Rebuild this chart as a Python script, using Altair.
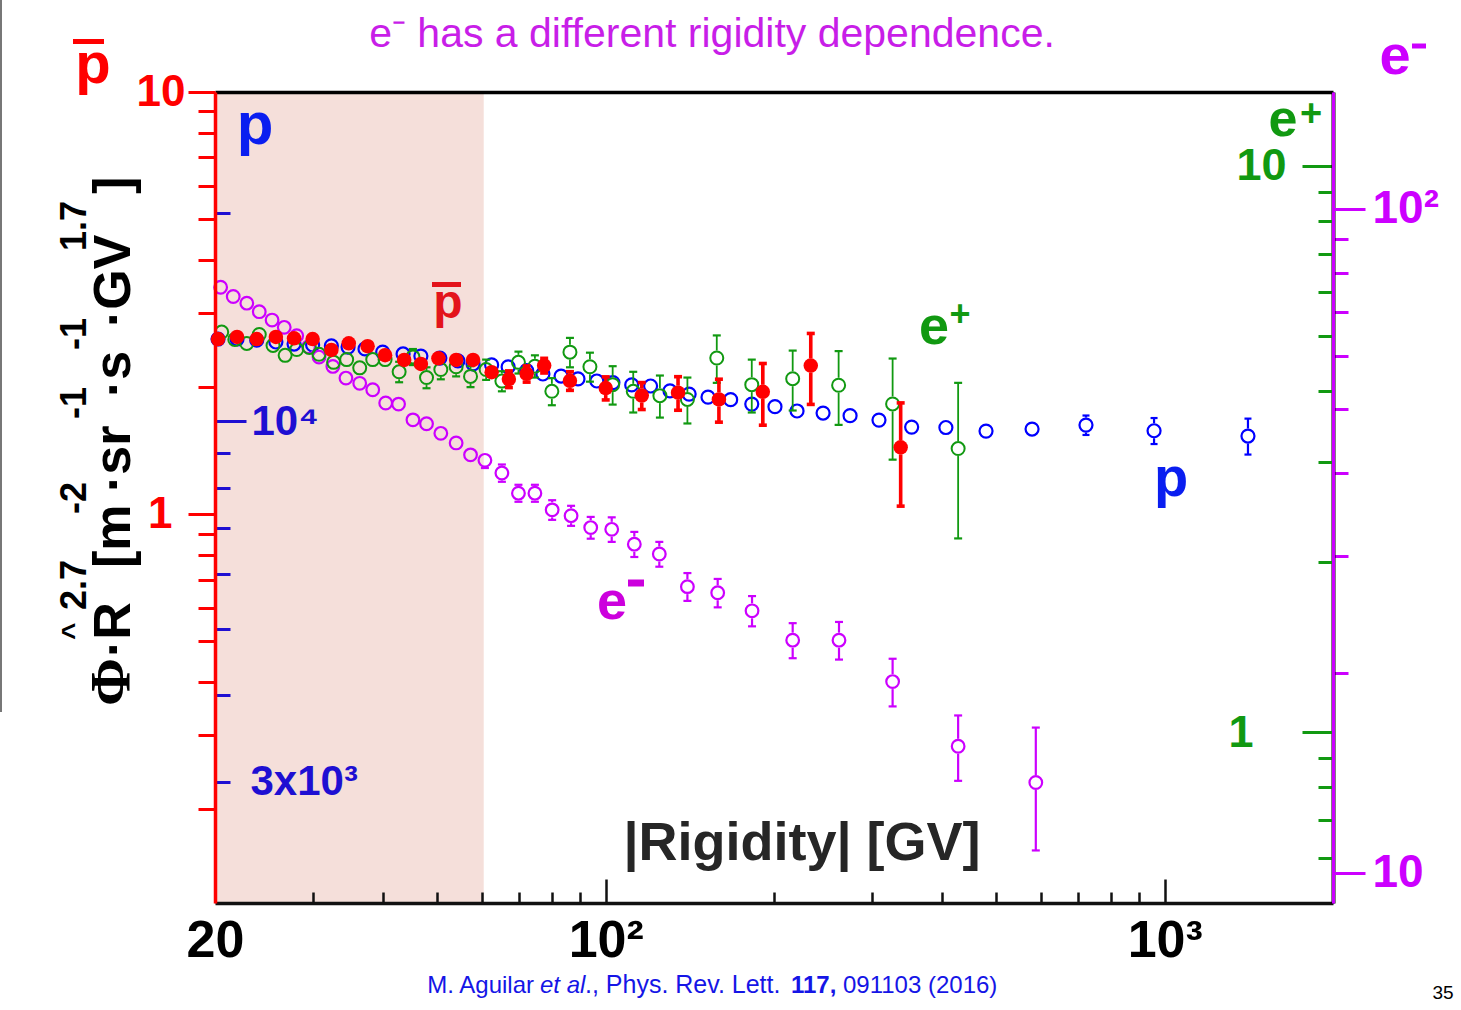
import math
import altair as alt
import pandas as pd

# ------------------------------------------------------------------ data
# protons (blue, flux x R^2.7, m^-2 sr^-1 s^-1 GV^1.7)
P_R = [20.25, 21.9, 23.75, 25.7, 27.7, 29.9, 32.3, 34.6, 37.1, 39.9, 43.4, 46.7,
       50.5, 54.4, 57.9, 62.5, 66.9, 72.2, 77.2, 83.2, 89.2, 96.4, 103, 111.3,
       120.3, 130.3, 141, 152.4, 167.3, 182.5, 200.8, 219.9, 244.8, 273.6, 308.2,
       352.6, 406, 479, 579, 723, 957, 1409]
P_FLUX = [13150, 13150, 13100, 13020, 12930, 12890, 12850, 12800, 12720, 12590,
          12510, 12420, 12340, 12220, 12100, 12060, 11980, 11830, 11700, 11620,
          11510, 11430, 11370, 11280, 11240, 11060, 10940, 10830, 10740, 10580,
          10490, 10340, 10270, 10180, 10030, 9800, 9785, 9670, 9735, 9865, 9680, 9510]
P_ERR = [40] * 30 + [50, 50, 60, 60, 70, 80, 90, 130, 160, 320, 420, 570]

# antiprotons (red)
PBAR_R = [20.25, 21.9, 23.75, 25.7, 27.7, 29.9, 32.3, 34.7, 37.5, 40.3, 43.6, 46.7,
          50.2, 54.0, 57.9, 62.5, 67.1, 72.2, 77.6, 86.3, 100, 116, 134.7, 159.4,
          191, 232.7, 337]
PBAR_FLUX = [2.60, 2.63, 2.60, 2.63, 2.61, 2.60, 2.45, 2.54, 2.50, 2.38, 2.32, 2.27,
             2.34, 2.32, 2.32, 2.17, 2.09, 2.15, 2.25, 2.07, 1.99, 1.91, 1.94, 1.87,
             1.95, 2.25, 1.44]
PBAR_ERR = [0.03, 0.03, 0.03, 0.03, 0.03, 0.03, 0.04, 0.04, 0.04, 0.05, 0.05, 0.05,
            0.05, 0.06, 0.06, 0.07, 0.095, 0.095, 0.09, 0.105, 0.125, 0.14, 0.177,
            0.218, 0.325, 0.43, 0.395]

# positrons (green)
EP_R = [20.56, 21.7, 22.8, 24.0, 25.4, 26.7, 28.0, 29.5, 30.7, 32.6, 34.4, 36.3,
        38.3, 40.3, 42.7, 45.2, 47.8, 50.7, 54.0, 57.3, 61.1, 65.2, 69.8, 74.7,
        80.1, 86.3, 93.7, 102.9, 112, 125, 140, 158, 182.5, 216, 261, 326, 427]
EP_FLUX = [5.09, 4.94, 4.86, 5.04, 4.82, 4.63, 4.74, 4.78, 4.65, 4.50, 4.55, 4.40,
           4.55, 4.55, 4.33, 4.60, 4.23, 4.37, 4.42, 4.25, 4.37, 4.17, 4.50, 4.43,
           4.00, 4.69, 4.42, 4.11, 4.00, 3.93, 3.87, 4.58, 4.11, 4.21, 4.10, 3.80, 3.17]
EP_ERR = [0.10, 0.10, 0.10, 0.10, 0.10, 0.10, 0.10, 0.11, 0.11, 0.12, 0.12, 0.13,
          0.13, 0.13, 0.18, 0.15, 0.18, 0.17, 0.17, 0.18, 0.18, 0.17, 0.20, 0.20,
          0.22, 0.28, 0.26, 0.32, 0.33, 0.335, 0.36, 0.44, 0.44, 0.51, 0.61, 0.77, 0.97]

# electrons (magenta)
EM_R = [20.47, 21.56, 22.8, 24.0, 25.3, 26.6, 28.0, 29.4, 30.7, 32.5, 34.3, 36.3,
        38.3, 40.4, 42.6, 45.2, 47.8, 50.7, 54.0, 57.3, 60.8, 65.2, 69.8, 74.7,
        80.2, 86.7, 94.0, 102.5, 112.5, 124.7, 140, 158.6, 182.7, 216, 261.4, 326,
        427, 588]
EM_FLUX = [76.2, 73.8, 72.1, 70.0, 68.0, 66.3, 64.4, 62.0, 59.8, 57.9, 55.6, 54.6,
           53.4, 51.0, 50.8, 48.1, 47.45, 45.9, 44.4, 42.6, 41.8, 40.0, 37.3, 37.3,
           35.2, 34.5, 33.1, 32.9, 31.25, 30.2, 26.97, 26.4, 24.8, 22.4, 22.4, 19.4,
           15.5, 13.67]
EM_ERR = [0.6, 0.6, 0.6, 0.6, 0.6, 0.6, 0.6, 0.6, 0.6, 0.6, 0.8, 0.8, 0.8, 0.9,
          0.9, 0.9, 0.9, 0.9, 0.9, 0.9, 1.1, 1.2, 1.1, 1.1, 1.2, 1.2, 1.25, 1.4,
          1.36, 1.3, 1.3, 1.3, 1.3, 1.36, 1.46, 1.6, 1.75, 2.87]

SHADE_RANGE = [20, 60.5]

X_DOMAIN = [20, 2000]
PBAR_DOMAIN = [0.12, 10]
P_DOMAIN = [2000, 30000]
EP_DOMAIN = [0.5, 13.5]
EM_DOMAIN = [9, 150]

X_LABEL_VALUES = [20, 100, 1000]
X_MAJOR_TICKS = [100, 1000]
X_MINOR_TICKS = [30, 40, 50, 60, 70, 80, 90, 200, 300, 400, 500, 600, 700, 800, 900]
PBAR_MAJOR = [1, 10]
PBAR_MINOR = [0.2, 0.3, 0.4, 0.5, 0.6, 0.7, 0.8, 0.9, 1, 2, 3, 4, 5, 6, 7, 8, 9]
P_MAJOR = [10000]
P_MINOR = [3000, 4000, 5000, 6000, 7000, 8000, 9000, 20000]
EP_MAJOR = [1, 10]
EP_MINOR = [0.6, 0.7, 0.8, 0.9, 1, 2, 3, 4, 5, 6, 7, 8, 9]
EM_MAJOR = [10, 100]
EM_MINOR = [20, 30, 40, 50, 60, 70, 80, 90]

# ------------------------------------------------------------------ style
W, H = 1118, 811
PAD_L, PAD_T, PAD_R, PAD_B = 215, 92, 128, 107
FONT = "Liberation Sans"

RED = "#ff0000"
BLUE = "#0000ff"
BLUE_AX = "#1e0fd2"
BLUE_TXT = "#0a1ef0"
GREEN = "#119911"
MAGENTA = "#cc00ff"
CITE = "#1515e6"

xs = alt.Scale(type="log", domain=X_DOMAIN, nice=False)
XENC = alt.X("R:Q", scale=xs, axis=None)


def yaxis(orient, values, tick, color, label_expr="''", pad=4, size=44,
          offset=0, domain=False, domain_color="black", domain_w=3, zindex=1):
    kw = dict(orient=orient, values=values, tickSize=tick, tickColor=color,
              tickWidth=3, labelExpr=label_expr, labelColor=color,
              labelFontSize=size, labelFont=FONT, labelFontWeight="bold",
              labelPadding=pad, labelOverlap=False, labelFlush=False,
              grid=False, title=None, domain=domain, zindex=zindex,
              offset=offset)
    if domain:
        kw.update(domainColor=domain_color, domainWidth=domain_w)
    return alt.Axis(**kw)


def ends_df(R, v, err):
    rows = []
    for r_, v_, e_ in zip(R, v, err):
        rows.append({"R": r_, "v": v_, "e": v_ + e_, "dir": "up"})
        rows.append({"R": r_, "v": v_, "e": v_ - e_, "dir": "down"})
    return pd.DataFrame(rows)


def series(R, v, err, domain, color, filled, size, sw, rule_w, cap_w, cap_t,
           radius, major_axis, minor_axis):
    ys = alt.Scale(type="log", domain=domain, nice=False)
    ppd = H / math.log10(domain[1] / domain[0])
    pts_df = pd.DataFrame({"R": R, "v": v})
    ed = ends_df(R, v, err)
    cond = f"abs(log(datum.e/datum.v))/LN10*{ppd:.3f} > {radius}"
    base = alt.Chart(ed).transform_filter(cond)
    up = base.transform_filter("datum.dir == 'up'").mark_rule(
        color=color, strokeWidth=rule_w, y2Offset=-radius).encode(
        x=XENC, y=alt.Y("e:Q", scale=ys, axis=None), y2="v:Q")
    dn = base.transform_filter("datum.dir == 'down'").mark_rule(
        color=color, strokeWidth=rule_w, y2Offset=radius).encode(
        x=XENC, y=alt.Y("e:Q", scale=ys, axis=None), y2="v:Q")
    caps = base.mark_tick(orient="horizontal", color=color, size=cap_w,
                          thickness=cap_t, opacity=1).encode(
        x=XENC, y=alt.Y("e:Q", scale=ys, axis=None))
    if filled:
        pts = alt.Chart(pts_df).mark_circle(color=color, size=size, opacity=1)
    else:
        pts = alt.Chart(pts_df).mark_point(shape="circle", color=color, size=size,
                                           strokeWidth=sw, opacity=1, filled=False)
    pts = pts.encode(x=XENC, y=alt.Y("v:Q", scale=ys, axis=major_axis))
    carrier = alt.Chart(pts_df).mark_point(opacity=0).encode(
        x=XENC, y=alt.Y("v:Q", scale=ys, axis=minor_axis))
    return alt.layer(up, dn, caps, pts, carrier).resolve_axis(y="independent")


def txt(s, x, y, size, color, weight="bold", align="center",
        baseline="alphabetic", angle=0, style="normal", font=FONT):
    kw = dict(align=align, baseline=baseline, fontSize=size, color=color,
              fontWeight=weight, font=font, fontStyle=style)
    if angle:
        kw["angle"] = angle
    return alt.Chart(pd.DataFrame({"t": [s]})).mark_text(**kw).encode(
        text="t:N", x=alt.value(x - PAD_L), y=alt.value(y - PAD_T))


def hbar(x1, x2, y, width, color):
    return alt.Chart(pd.DataFrame({"k": [0]})).mark_rule(
        color=color, strokeWidth=width).encode(
        x=alt.value(x1 - PAD_L), x2=alt.value(x2 - PAD_L), y=alt.value(y - PAD_T))


def vbar(x, y1, y2, width, color):
    return alt.Chart(pd.DataFrame({"k": [0]})).mark_rule(
        color=color, strokeWidth=width).encode(
        x=alt.value(x - PAD_L), y=alt.value(y1 - PAD_T), y2=alt.value(y2 - PAD_T))


# ------------------------------------------------------------------ axes
x_label_axis = alt.Axis(orient="bottom", values=X_LABEL_VALUES,
                        labelExpr="datum.value == 20 ? '20' : (datum.value == 100 ? '10²' : '10³')",
                        ticks=False, domain=False, grid=False, title=None,
                        labelFontSize=52, labelFont=FONT, labelFontWeight="bold",
                        labelColor="black", labelPadding=12, labelFlush=False,
                        labelOverlap=False, zindex=1)
x_minor_axis = alt.Axis(orient="top", offset=-H, values=X_MINOR_TICKS, tickSize=11,
                        tickWidth=2.5, tickColor="#111111", labels=False, grid=False,
                        title=None, domain=True, domainColor="#111111",
                        domainWidth=3.5, zindex=1)
x_major_axis = alt.Axis(orient="top", offset=-H, values=X_MAJOR_TICKS, tickSize=24,
                        tickWidth=2.5, tickColor="#111111", labels=False, grid=False,
                        title=None, domain=False, zindex=1)
x_top_axis = alt.Axis(orient="top", ticks=False, labels=False, grid=False, title=None,
                      domain=True, domainColor="black", domainWidth=3.5, zindex=1)

pbar_major = yaxis("left", PBAR_MAJOR, 27, RED, "datum.value == 10 ? '10' : ''",
                   pad=3, size=44, domain=True, domain_color=RED, domain_w=3.5, zindex=2)
pbar_minor = yaxis("left", PBAR_MINOR, 17, RED, "datum.value == 1 ? '1' : ''",
                   pad=26, size=44)
p_major = yaxis("right", P_MAJOR, 31, BLUE_AX, "'10⁴'", pad=5, size=42, offset=-W)
p_minor = yaxis("right", P_MINOR, 15, BLUE_AX, "datum.value == 3000 ? '3x10³' : ''",
                pad=20, size=42, offset=-W)
ep_major = yaxis("left", EP_MAJOR, 31, GREEN, "datum.value == 10 ? '10' : ''",
                 pad=16, size=45, offset=-W, domain=True, domain_color="black",
                 domain_w=4)
ep_minor = yaxis("left", EP_MINOR, 15, GREEN, "datum.value == 1 ? '1' : ''",
                 pad=65, size=45, offset=-W)
em_major = yaxis("right", EM_MAJOR, 32, MAGENTA,
                 "datum.value == 100 ? '10²' : '10'", pad=7, size=46,
                 domain=True, domain_color=MAGENTA, domain_w=3, zindex=2)
em_minor = yaxis("right", EM_MINOR, 15, MAGENTA, "''", pad=2, size=10)

# ------------------------------------------------------------------ layers
shade = alt.Chart(pd.DataFrame({"a": [SHADE_RANGE[0]], "b": [SHADE_RANGE[1]]})).mark_rect(
    color="#f5dfda", opacity=1).encode(
    x=alt.X("a:Q", scale=xs, axis=x_label_axis), x2="b:Q",
    y=alt.value(0), y2=alt.value(H))

xdf = pd.DataFrame({"R": X_DOMAIN})


def xcarrier(axis):
    return alt.Chart(xdf).mark_point(opacity=0).encode(
        x=alt.X("R:Q", scale=xs, axis=axis))


blue = series(P_R, P_FLUX, P_ERR, P_DOMAIN, BLUE, False, 169, 2.2, 2.2, 7, 2.2, 7.5,
              p_major, p_minor)
mag = series(EM_R, EM_FLUX, EM_ERR, EM_DOMAIN, MAGENTA, False, 160, 2.2, 2.2, 8, 2.2,
             7.5, em_major, em_minor)
green = series(EP_R, EP_FLUX, EP_ERR, EP_DOMAIN, GREEN, False, 169, 2.0, 1.8, 8, 2.2,
               7.5, ep_major, ep_minor)
red = series(PBAR_R, PBAR_FLUX, PBAR_ERR, PBAR_DOMAIN, RED, True, 210, 0, 3.6, 8, 3.6,
             7, pbar_major, pbar_minor)

ann = [
    txt("e⁻ has a different rigidity dependence.", 712, 47, 41, "#c81ee8", weight="normal"),
    # pbar top-left
    txt("p", 93, 83, 58, RED),
    hbar(73, 104, 41.5, 5, RED),
    # e- top-right
    txt("e", 1395, 74, 56, MAGENTA),
    hbar(1412, 1426, 46, 5, MAGENTA),
    # e+ top-right
    txt("e", 1283, 136, 52, GREEN),
    txt("+", 1311, 126, 38, GREEN),
    # blue p top-left
    txt("p", 255, 144, 60, BLUE_TXT),
    # inner pbar
    txt("p", 448, 318, 48, "#e3141b"),
    hbar(432, 461, 284.5, 5, "#e3141b"),
    # inner e+
    txt("e", 934, 344, 54, GREEN),
    txt("+", 960, 326, 36, GREEN),
    # inner e-
    txt("e", 612, 619, 54, "#cc00dd"),
    hbar(628, 644, 583, 7, "#cc00dd"),
    # blue p right
    txt("p", 1171, 496, 56, BLUE_TXT),
    # x title
    txt("|Rigidity| [GV]", 802, 860, 54, "#262626"),
    # citation
    txt("M. Aguilar", 534, 993, 24, CITE, weight="normal", align="right"),
    txt("et al", 540, 993, 24, CITE, weight="normal", align="left", style="italic"),
    txt("., Phys. Rev. Lett.", 585, 993, 25, CITE, weight="normal", align="left"),
    txt("117,", 791, 993, 24, CITE, weight="bold", align="left"),
    txt("091103 (2016)", 843, 993, 24, CITE, weight="normal", align="left"),
    txt("35", 1443, 999, 19, "black", weight="normal"),
    vbar(1, 0, 712, 2, "#777777"),
]

# rotated y title pieces: (text, start y, size, baseline x, font, weight)
YT = [
    ("Φ", 706, 58, 130, "Liberation Serif", "bold"),
    ("·R", 657, 52, 130, FONT, "bold"),
    ("^", 640, 30, 82, FONT, "bold"),
    ("2.7", 610, 36, 86, FONT, "bold"),
    ("[m", 568, 52, 130, FONT, "bold"),
    ("-2", 514, 36, 86, FONT, "bold"),
    ("·sr", 492, 52, 130, FONT, "bold"),
    ("-1", 419, 36, 86, FONT, "bold"),
    ("·s", 397, 52, 130, FONT, "bold"),
    ("-1", 350, 36, 86, FONT, "bold"),
    ("·GV", 327, 52, 130, FONT, "bold"),
    ("1.7", 251, 36, 86, FONT, "bold"),
    ("]", 194, 52, 130, FONT, "bold"),
]
for s, ys_, size, xb, font, wt in YT:
    ann.append(txt(s, xb, ys_, size, "black", weight=wt, align="left", angle=270, font=font))

layers = [shade, blue, mag, green, red] + ann + [
    xcarrier(x_minor_axis), xcarrier(x_major_axis), xcarrier(x_top_axis)]

chart = alt.layer(*layers).resolve_scale(y="independent").resolve_axis(
    x="independent", y="independent").properties(
    width=W, height=H,
    autosize=alt.AutoSizeParams(type="none"),
    padding={"left": PAD_L, "top": PAD_T, "right": PAD_R, "bottom": PAD_B},
).configure_view(strokeWidth=0).configure(background="white")

chart.save("out.html", embed_options={"renderer": "svg", "actions": False})
